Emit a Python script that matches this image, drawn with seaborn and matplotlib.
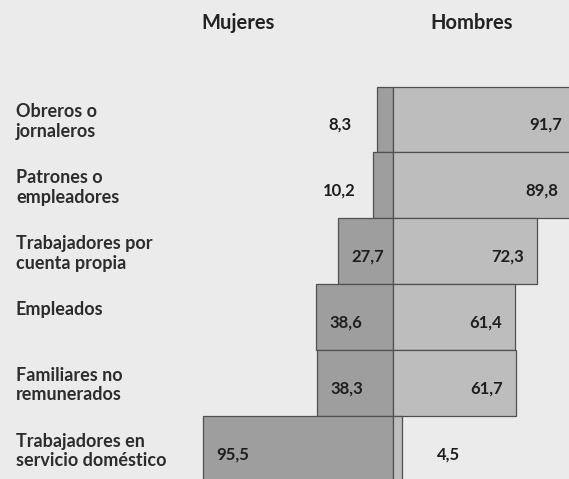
import matplotlib
matplotlib.use('Agg')
import matplotlib.pyplot as plt
import seaborn as sns
import pandas as pd

# data (percent)
categorias = ['Obreros o\njornaleros', 'Patrones o\nempleadores', 'Trabajadores por\ncuenta propia',
              'Empleados', 'Familiares no\nremunerados', 'Trabajadores en\nservicio doméstico']
mujeres = [8.3, 10.2, 27.7, 38.6, 38.3, 95.5]
hombres = [91.7, 89.8, 72.3, 61.4, 61.7, 4.5]

df = pd.DataFrame({'categoria': categorias, 'mujeres': mujeres, 'hombres': hombres})
df['mujeres_neg'] = -df['mujeres']

sns.set_style('white')
plt.rcParams['font.family'] = ['Lato', 'DejaVu Sans']

bg = '#ebebeb'
fig = plt.figure(figsize=(5.69, 4.79), dpi=100, facecolor=bg)
ax = fig.add_axes([0, 0, 1, 1])
ax.set_facecolor(bg)

sns.barplot(data=df, x='mujeres_neg', y='categoria', orient='h', color='#9e9e9e',
            width=1.0, edgecolor='#505050', linewidth=0.9, saturation=1, ax=ax)
sns.barplot(data=df, x='hombres', y='categoria', orient='h', color='#bdbdbd',
            width=1.0, edgecolor='#505050', linewidth=0.9, saturation=1, ax=ax)

txt = '#1e1e1e'
for i, (m, h) in enumerate(zip(mujeres, hombres)):
    xm = -27 if m < 15 else -(m - 15)
    xh = 28 if h < 15 else h - 15
    ax.text(xm, i + 0.08, f'{m:.1f}'.replace('.', ','), ha='center', va='center',
            fontsize=12, fontweight='bold', color=txt)
    ax.text(xh, i + 0.08, f'{h:.1f}'.replace('.', ','), ha='center', va='center',
            fontsize=12, fontweight='bold', color=txt)
    ax.text(-189.6, i - 0.25, categorias[i], ha='left', va='top', fontsize=13,
            fontweight='bold', color='#2c2c2c', linespacing=1.2)

ax.text(-78, -1.46, 'Mujeres', ha='center', va='center', fontsize=14.5,
        fontweight='bold', color='#222222')
ax.text(39.5, -1.46, 'Hombres', ha='center', va='center', fontsize=14.5,
        fontweight='bold', color='#222222')

ax.set_xlim(-197.6, 88.3)
ax.set_ylim(5.455, -1.813)
ax.axis('off')

fig.savefig('out.png', dpi=100, facecolor=bg)
